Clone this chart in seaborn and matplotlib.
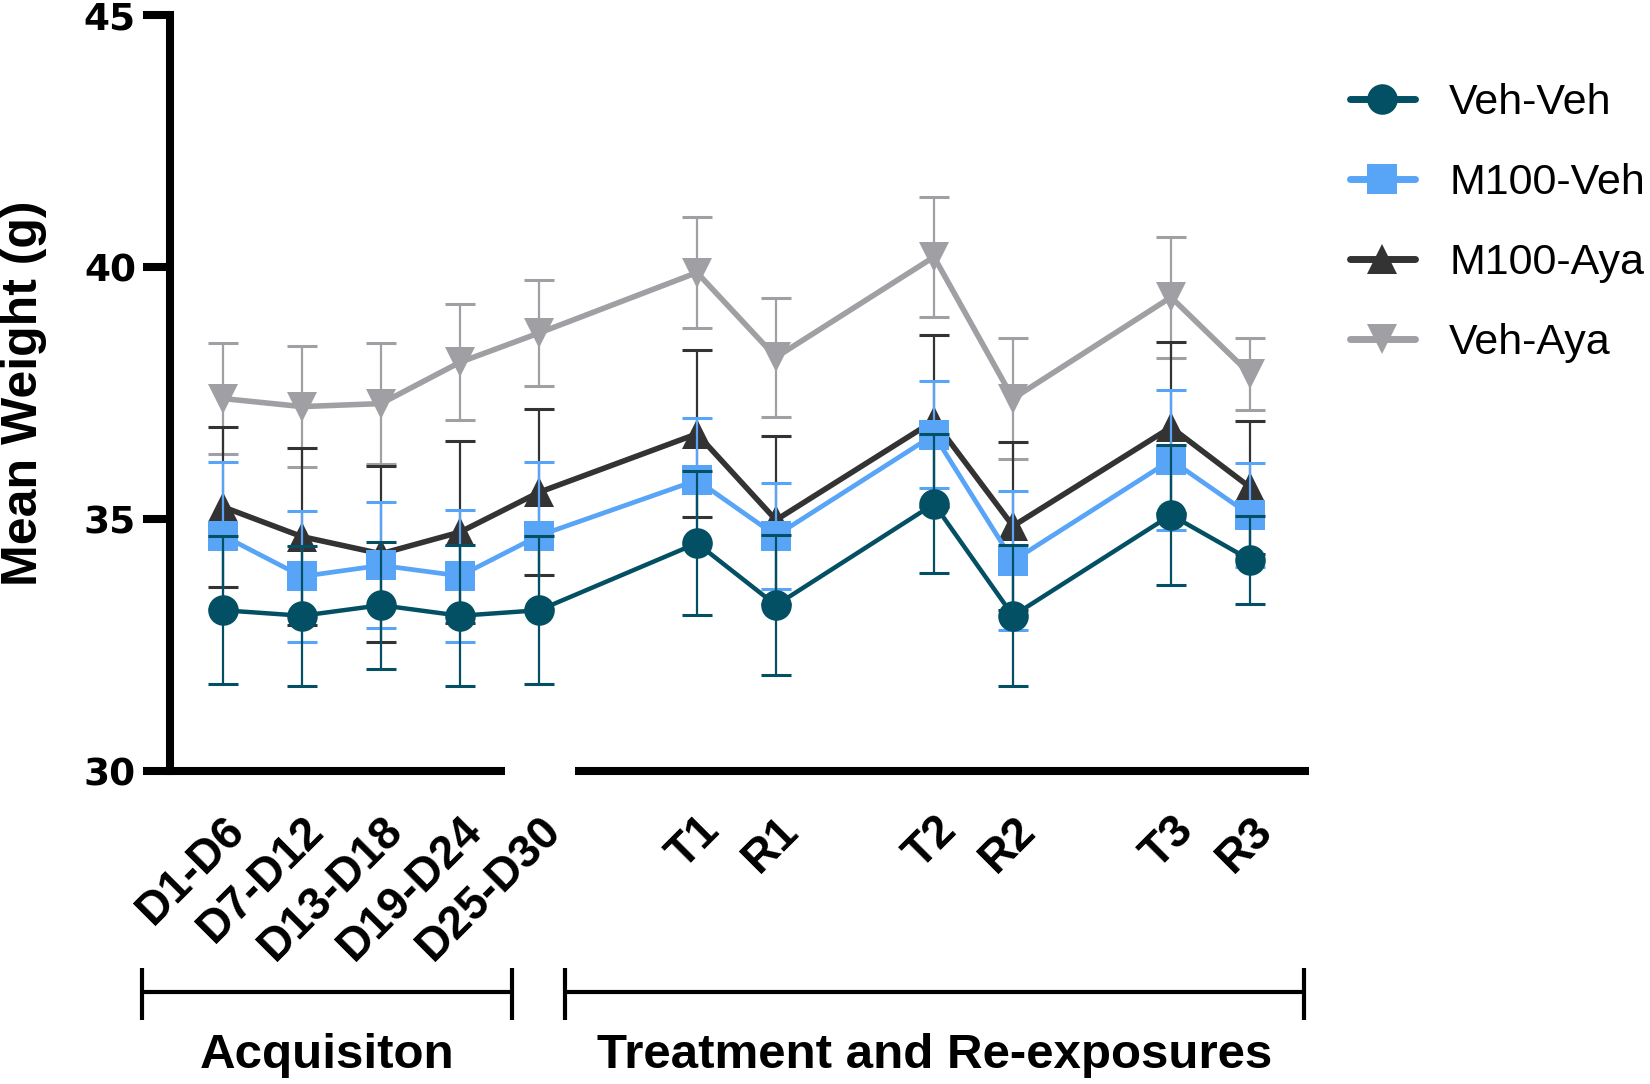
import numpy as np
import pandas as pd
import matplotlib
matplotlib.use("Agg")
import matplotlib.pyplot as plt
import matplotlib.transforms as mtransforms
import seaborn as sns

# ---------------- data ----------------
acq_labels = ["D1-D6", "D7-D12", "D13-D18", "D19-D24", "D25-D30"]
trt_labels = ["T1", "R1", "T2", "R2", "T3", "R3"]
groups = ["Veh-Veh", "M100-Veh", "M100-Aya", "Veh-Aya"]

veh_veh_mean = [33.19, 33.08, 33.29, 33.08, 33.19, 34.52, 33.29, 35.30, 33.08, 35.08, 34.19]
veh_veh_sem = [1.47, 1.39, 1.26, 1.40, 1.47, 1.43, 1.39, 1.38, 1.40, 1.39, 0.87]

m100_veh_mean = [34.67, 33.86, 34.08, 33.87, 34.67, 35.77, 34.67, 36.67, 34.17, 36.17, 35.08]
m100_veh_sem = [1.46, 1.30, 1.25, 1.31, 1.46, 1.24, 1.05, 1.06, 1.38, 1.38, 1.03]

m100_aya_mean = [35.24, 34.65, 34.31, 34.74, 35.53, 36.69, 34.98, 36.95, 34.86, 36.82, 35.63]
m100_aya_sem = [1.58, 1.75, 1.75, 1.80, 1.65, 1.66, 1.67, 1.71, 1.66, 1.70, 1.32]

veh_aya_mean = [37.39, 37.23, 37.29, 38.11, 38.69, 39.89, 38.21, 40.20, 37.39, 39.40, 37.88]
veh_aya_sem = [1.10, 1.20, 1.20, 1.15, 1.06, 1.10, 1.18, 1.19, 1.20, 1.20, 0.71]

y_ticks = [30, 35, 40, 45]
phase_labels = ["Acquisiton", "Treatment and Re-exposures"]

# ---------------- layout helpers ----------------
labels = acq_labels + trt_labels
# acquisition blocks are consecutive; treatment pairs (T, R) separated by a gap
pos = list(range(len(acq_labels))) + [
    len(acq_labels) + 1 + 3 * (i // 2) + (i % 2) for i in range(len(trt_labels))
]
mark_pos = pos[:len(acq_labels) - 1] + pos[len(acq_labels):]

series = {
    "Veh-Aya": (veh_aya_mean, veh_aya_sem, "#A0A0A4", "v", 4.0),
    "M100-Aya": (m100_aya_mean, m100_aya_sem, "#333333", "^", 4.0),
    "M100-Veh": (m100_veh_mean, m100_veh_sem, "#58A5F8", "s", 3.4),
    "Veh-Veh": (veh_veh_mean, veh_veh_sem, "#034F63", "o", 3.2),
}

sns.set_theme(style="ticks")
plt.rcParams["font.family"] = ["Liberation Sans", "DejaVu Sans"]

W, H = 1650, 1084
fig = plt.figure(figsize=(W / 100, H / 100), dpi=100)

ax_left_px, ax_right_px = 170, 1309
ax_top_px, ax_bot_px = 15, 771
ax = fig.add_axes([ax_left_px / W, 1 - ax_bot_px / H,
                   (ax_right_px - ax_left_px) / W, (ax_bot_px - ax_top_px) / H])

px_per_unit = 79.0
x0_px = 223.0
ax.set_xlim((ax_left_px - x0_px) / px_per_unit, (ax_right_px - x0_px) / px_per_unit)
ax.set_ylim(30, 45)

zorders = {"Veh-Aya": 3, "M100-Aya": 4, "M100-Veh": 5, "Veh-Veh": 6}
for name, (m, s, c, mk, lw) in series.items():
    z = zorders[name]
    ax.errorbar(pos, m, yerr=s, fmt="none", ecolor=c, elinewidth=1.6,
                capsize=10.5, capthick=2.2, zorder=z - 0.1, clip_on=False)
    sns.lineplot(x=pos, y=m, color=c, marker=mk, markersize=22,
                 markeredgewidth=0, markeredgecolor=c, linewidth=lw,
                 label=name, ax=ax, errorbar=None, sort=False, zorder=z)
    ax.lines[-1].set_clip_on(False)

# ---------------- axes styling ----------------
for sp in ["top", "right", "bottom"]:
    ax.spines[sp].set_visible(False)
ax.spines["left"].set_linewidth(5.8)
ax.spines["left"].set_color("black")

ax.set_yticks(y_ticks)
ax.set_yticklabels([str(t) for t in y_ticks], fontfamily="DejaVu Sans",
                   fontweight="bold", fontsize=27)
ax.tick_params(axis="y", length=19.5, width=5.8, color="black", pad=5,
               labelcolor="black")

ax.set_xticks(pos)
ax.set_xticklabels(labels, rotation=45, ha="right", rotation_mode="anchor",
                   fontweight="bold", fontsize=33)
ax.tick_params(axis="x", which="major", length=0, pad=27, labelcolor="black")
ax.set_xticks(mark_pos, minor=True)
ax.tick_params(axis="x", which="minor", length=19.5, width=5.8, color="black")

ax.set_ylabel("Mean Weight (g)", fontweight="bold", fontsize=36, color="black")
ax.yaxis.set_label_coords((47 - ax_left_px) / (ax_right_px - ax_left_px), 0.5)

# broken x axis
xt = ax.get_xaxis_transform()
xl, xr = ax.get_xlim()
brk_l = (505 - x0_px) / px_per_unit
brk_r = (575 - x0_px) / px_per_unit
for a, b in [(xl, brk_l), (brk_r, xr)]:
    ax.plot([a, b], [0, 0], transform=xt, color="black", lw=5.8,
            solid_capstyle="butt", clip_on=False, zorder=2.5)

# phase brackets
def ypx(p):
    return (ax_bot_px - p) / (ax_bot_px - ax_top_px)

brackets = [((142 - x0_px) / px_per_unit, (512 - x0_px) / px_per_unit),
            ((565 - x0_px) / px_per_unit, (1304 - x0_px) / px_per_unit)]
for (a, b), lab in zip(brackets, phase_labels):
    ax.plot([a, b], [ypx(992), ypx(992)], transform=xt, color="black", lw=3,
            clip_on=False, solid_capstyle="butt")
    for xx in (a, b):
        ax.plot([xx, xx], [ypx(968), ypx(1020)], transform=xt, color="black",
                lw=3, clip_on=False, solid_capstyle="butt")
    ax.text((a + b) / 2, ypx(1056), lab, transform=xt, ha="center", va="center",
            fontsize=35.5, fontweight="bold", color="black")

# legend
handles, labs = ax.get_legend_handles_labels()
order = [labs.index(g) for g in groups]
leg = ax.legend([handles[i] for i in order], [labs[i] for i in order],
                loc="upper left", bbox_to_anchor=(1350 / W, 1 - 83 / H),
                bbox_transform=fig.transFigure, frameon=False, fontsize=31,
                handlelength=1.5, handletextpad=0.8, labelspacing=0.93,
                borderpad=0, borderaxespad=0)
for t in leg.get_texts():
    t.set_color("black")
for h in leg.legend_handles:
    h.set_linewidth(5)

fig.savefig("out.png", dpi=100)
